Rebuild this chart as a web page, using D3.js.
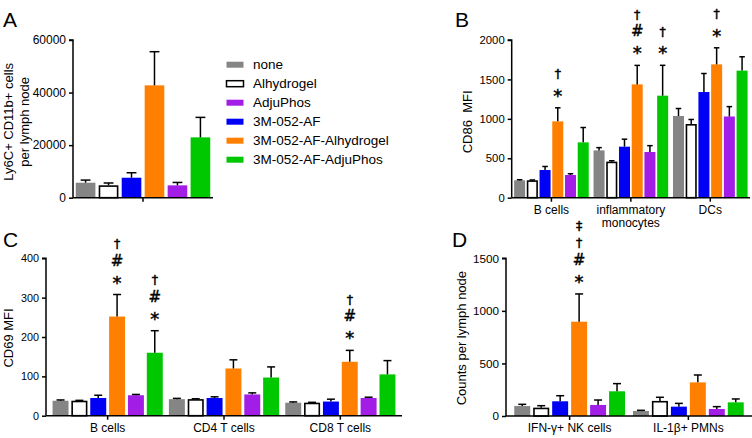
<!DOCTYPE html>
<html><head><meta charset="utf-8">
<script src="https://cdn.jsdelivr.net/npm/d3@7"></script>
<style>
body{margin:0;background:#fff;}
svg{display:block;font-family:"Liberation Sans",Arial,sans-serif;}
</style></head><body>
<svg id="c" width="752" height="438"></svg>
<script>
// ---- data ----
const seriesOrder = ["none","Alhydrogel","3M-052-AF","3M-052-AF-Alhydrogel","AdjuPhos","3M-052-AF-AdjuPhos"];
const legendOrder = ["none","Alhydrogel","AdjuPhos","3M-052-AF","3M-052-AF-Alhydrogel","3M-052-AF-AdjuPhos"];
const seriesColors = ["#858585","#ffffff","#0000f5","#ff8000","#a21ee6","#00c800"];

const aCategories = [""];
const aMeans = [[5700, 4700, 7600, 42750, 4700, 22960]];
const aSem   = [[1000, 900, 1900, 12800, 1100, 7600]];
const aTicks = [0, 20000, 40000, 60000];

const bCategories = ["B cells", "inflammatory|monocytes", "DCs"];
const bMeans = [[220, 220, 351, 968, 288, 702],
                [600, 457, 647, 1437, 580, 1294],
                [1036, 934, 1340, 1691, 1030, 1612]];
const bSem   = [[8, 5, 45, 172, 16, 188],
                [35, 12, 95, 241, 80, 385],
                [95, 58, 235, 210, 125, 175]];
const bTicks = [0, 500, 1000, 1500, 2000];
const bMarks = [{cat:0, s:3, m:["*","†"]}, {cat:1, s:3, m:["*","#","†"]},
                {cat:1, s:5, m:["*","†"]}, {cat:2, s:3, m:["*","†"]}];

const cCategories = ["B cells", "CD4 T cells", "CD8 T cells"];
const cMeans = [[38, 38, 45, 252, 52, 160],
                [42, 42, 45, 120, 54, 97],
                [33, 33, 36, 137, 45, 105]];
const cSem   = [[2, 1, 7, 56, 2, 56],
                [2, 1, 3, 22, 4, 27],
                [2, 1, 6, 29, 2, 35]];
const cTicks = [0, 100, 200, 300, 400];
const cMarks = [{cat:0, s:3, m:["*","#","†"]}, {cat:0, s:5, m:["*","#","†"]},
                {cat:2, s:3, m:["*","#","†"]}];

const dCategories = ["IFN-γ+ NK cells", "IL-1β+ PMNs"];
const dMeans = [[95, 79, 140, 897, 105, 235],
                [48, 143, 89, 320, 67, 130]];
const dSem   = [[16, 19, 53, 264, 47, 73],
                [6, 35, 31, 70, 22, 32]];
const dTicks = [0, 500, 1000, 1500];
const dMarks = [{cat:0, s:3, m:["*","#","†","‡"]}];

// ---- drawing ----
const svg = d3.select("#c");
const color = d3.scaleOrdinal(seriesOrder, seriesColors);

function panel(cfg){
  const g = svg.append("g");
  const y = d3.scaleLinear().domain([0, cfg.ticks[cfg.ticks.length-1]]).range([cfg.y0, cfg.y1]);
  const x = d3.scaleBand().domain(cfg.cats.map((c,i)=>i)).range([cfg.x0, cfg.x1]).paddingInner(0).paddingOuter(cfg.po);
  const xs = d3.scaleBand().domain(seriesOrder).range([0, x.bandwidth()]).paddingInner(cfg.pi).paddingOuter(cfg.pso);

  const data = [];
  cfg.cats.forEach((c,ci)=>seriesOrder.forEach((s,si)=>{
    data.push({ci, s, si, v: cfg.means[ci][si], e: cfg.sem[ci][si]});
  }));
  const bw = xs.bandwidth();
  // bars
  g.selectAll("rect.bar").data(data).join("rect")
    .attr("x", d => x(d.ci) + xs(d.s) + (d.si===1?0.75:0))
    .attr("y", d => y(d.v) + (d.si===1?0.75:0))
    .attr("width", d => bw - (d.si===1?1.5:0))
    .attr("height", d => y(0) - y(d.v) - (d.si===1?0.75:0))
    .attr("fill", d => color(d.s))
    .attr("stroke", d => d.si===1 ? "#000" : "none")
    .attr("stroke-width", 1.6);
  // error bars
  const eg = g.selectAll("g.err").data(data).join("g");
  eg.append("line")
    .attr("x1", d => x(d.ci)+xs(d.s)+bw/2).attr("x2", d => x(d.ci)+xs(d.s)+bw/2)
    .attr("y1", d => y(d.v)).attr("y2", d => y(d.v+d.e))
    .attr("stroke","#000").attr("stroke-width",1.5);
  eg.append("line")
    .attr("x1", d => x(d.ci)+xs(d.s)+bw*0.25).attr("x2", d => x(d.ci)+xs(d.s)+bw*0.75)
    .attr("y1", d => y(d.v+d.e)).attr("y2", d => y(d.v+d.e))
    .attr("stroke","#000").attr("stroke-width",1.5);
  // annotations
  (cfg.marks||[]).forEach(a=>{
    const top = y(cfg.means[a.cat][a.s] + cfg.sem[a.cat][a.s]);
    const cx = x(a.cat) + xs(seriesOrder[a.s]) + bw/2;
    a.m.forEach((sym,k)=>{
      g.append("text").attr("x", cx).attr("y", top - 17 - 17*k)
        .attr("text-anchor","middle").attr("dominant-baseline","central")
        .attr("font-size", sym==="*"?18:(sym==="#"?15:12.5)).attr("dy", sym==="*"?"0.25em":"0")
        .attr("fill","#000").attr("stroke","#000").attr("stroke-width",0.45)
        .style("font-family","'DejaVu Sans', sans-serif")
        .text(sym);
    });
  });
  // y axis
  const ya = g.append("g").attr("transform",`translate(${cfg.x0},0)`)
    .call(d3.axisLeft(y).tickValues(cfg.ticks).tickSize(4).tickPadding(3).tickFormat(d3.format("d")));
  ya.select(".domain").attr("stroke-width",1.5).attr("d", `M-4,${y(cfg.ticks[cfg.ticks.length-1])}H0V${y(0)}`);
  ya.selectAll(".tick line").attr("stroke-width",1.5);
  ya.selectAll("text").attr("font-size",cfg.tf).attr("font-family","Liberation Sans, Arial, sans-serif").attr("fill","#000");
  // x axis
  const xa = g.append("g").attr("transform",`translate(0,${cfg.y0})`)
    .call(d3.axisBottom(x).tickSize(4).tickPadding(4).tickFormat(""));
  xa.select(".domain").attr("stroke-width",1.5).attr("d", `M${cfg.x0},0H${cfg.x1}`);
  xa.selectAll(".tick line").attr("stroke-width",1.5);
  cfg.cats.forEach((c,i)=>{
    const lines = c.split("|");
    const t = g.append("text").attr("x", x(i)+x.bandwidth()/2).attr("y", cfg.y0+16)
      .attr("text-anchor","middle").attr("font-size",12);
    lines.forEach((l,k)=> t.append("tspan").attr("x", x(i)+x.bandwidth()/2).attr("dy", k===0?0:12.8).text(l));
  });
  // y label
  const ly = (cfg.y0+cfg.y1)/2 + (cfg.lyOff||0);
  const yl = g.append("text").attr("transform",`translate(${cfg.lx},${ly}) rotate(-90)`)
    .attr("text-anchor","middle").attr("font-size",13).style("white-space","pre");
  cfg.ylabel.forEach((l,k)=> yl.append("tspan").attr("x",0).attr("dy", k===0?0:16.3).text(l));
  // panel letter
  svg.append("text").attr("x", cfg.letter[0]).attr("y", cfg.letter[1]).attr("font-size",21).text(cfg.letter[2]);
}

panel({cats:aCategories, means:aMeans, sem:aSem, ticks:aTicks, x0:73, x1:213, y0:197.7, y1:40, tf:12,
  po:0, pi:0.145, pso:0.12, lx:12.5, lyOff:3, ylabel:["Ly6C+ CD11b+ cells","per lymph node"], letter:[3,27,"A"]});
panel({cats:bCategories, means:bMeans, sem:bSem, ticks:bTicks, marks:bMarks, x0:511.7, x1:750, y0:197.7, y1:40, tf:11.3,
  po:0, pi:0.134, pso:0.19, lx:472, lyOff:3, ylabel:["CD86  MFI"], letter:[455,27,"B"]});
panel({cats:cCategories, means:cMeans, sem:cSem, ticks:cTicks, marks:cMarks, x0:46, x1:402, y0:415.7, y1:258.3, tf:10.8,
  po:0.03, pi:0.153, pso:0.163, lx:12.5, lyOff:1, ylabel:["CD69 MFI"], letter:[3,247,"C"]});
panel({cats:dCategories, means:dMeans, sem:dSem, ticks:dTicks, marks:dMarks, x0:506, x1:752, y0:416, y1:258.3, tf:11.7,
  po:0.036, pi:0.158, pso:0.21, lx:466, lyOff:1, ylabel:["Counts per lymph node"], letter:[452,247,"D"]});

// legend
const lg = svg.append("g");
legendOrder.forEach((s,i)=>{
  const yy = 64.7 + i*19;
  lg.append("rect").attr("x", 226.5).attr("y", yy-3).attr("width", 17).attr("height", 6)
    .attr("fill", color(s)).attr("stroke", s==="Alhydrogel"?"#000":"none").attr("stroke-width",1.5);
  lg.append("text").attr("x", 253).attr("y", yy).attr("dominant-baseline","central")
    .attr("font-size", 13.5).text(s);
});
</script>
</body></html>
